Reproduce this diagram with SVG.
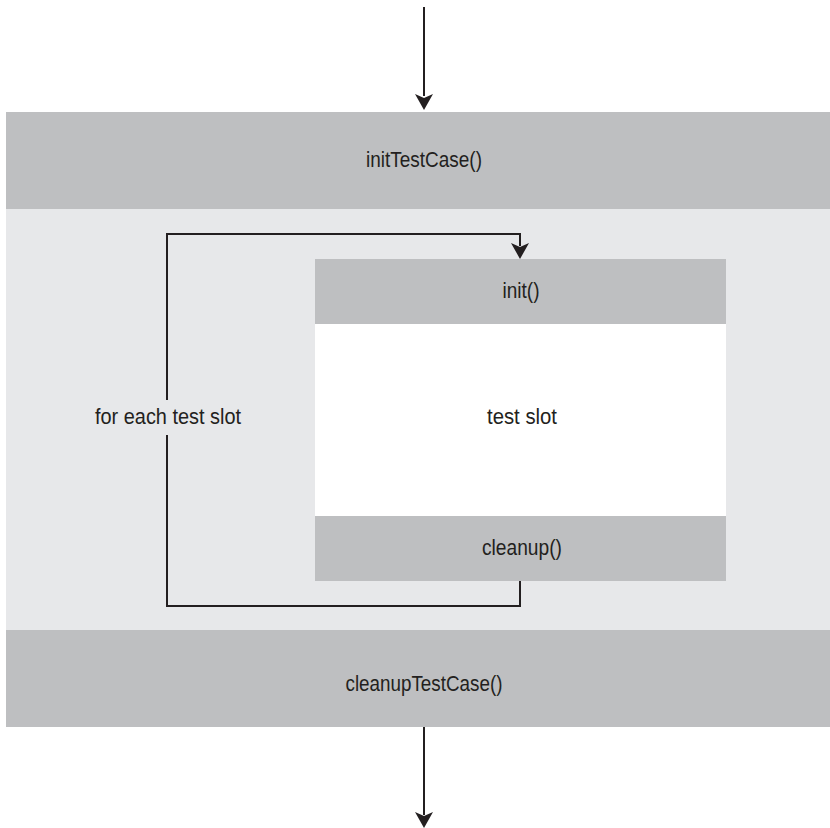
<svg xmlns="http://www.w3.org/2000/svg" width="830" height="828" viewBox="0 0 830 828">
<style>
.band{fill:#bebfc1}
.bg{fill:#e7e8ea}
.lbl{font-family:"Liberation Sans",Arial,sans-serif;font-size:22px;fill:#231f20;text-anchor:middle}
.wire{fill:none;stroke:#231f20;stroke-width:2}
.head{fill:#231f20}
</style>
<rect class="bg" x="6" y="209" width="824" height="421"/>
<g id="initTestCase">
<rect class="band" x="6" y="112" width="824" height="97"/>
<text class="lbl" x="424" y="167" textLength="116" lengthAdjust="spacingAndGlyphs">initTestCase()</text>
</g>
<g id="testSlotBox">
<rect x="315" y="259" width="411" height="322" fill="#ffffff"/>
</g>
<g id="init">
<rect class="band" x="315" y="259" width="411" height="65"/>
<text class="lbl" x="521" y="298" textLength="37" lengthAdjust="spacingAndGlyphs">init()</text>
</g>
<g id="testSlot">
<text class="lbl" x="522" y="424" textLength="70" lengthAdjust="spacingAndGlyphs">test slot</text>
</g>
<g id="cleanup">
<rect class="band" x="315" y="516" width="411" height="65"/>
<text class="lbl" x="522" y="555" textLength="80" lengthAdjust="spacingAndGlyphs">cleanup()</text>
</g>
<g id="cleanupTestCase">
<rect class="band" x="6" y="630" width="824" height="97"/>
<text class="lbl" x="424" y="691" textLength="157" lengthAdjust="spacingAndGlyphs">cleanupTestCase()</text>
</g>
<g id="loopLabel">
<text class="lbl" x="168" y="424" textLength="146" lengthAdjust="spacingAndGlyphs">for each test slot</text>
</g>
<g id="connectors">
<line class="wire" x1="424" y1="7" x2="424" y2="96"/>
<path class="head" d="M415,94 L424,98 L433,94 L424,110 Z"/>
<line class="wire" x1="424" y1="727" x2="424" y2="815"/>
<path class="head" d="M415,812 L424,816 L433,812 L424,828 Z"/>
<path class="wire" d="M520,581 V606 H167 V435"/>
<path class="wire" d="M167,400 V234 H520 V246"/>
<path class="head" d="M511,243 L520,247 L529,243 L520,259 Z"/>
</g>
</svg>
